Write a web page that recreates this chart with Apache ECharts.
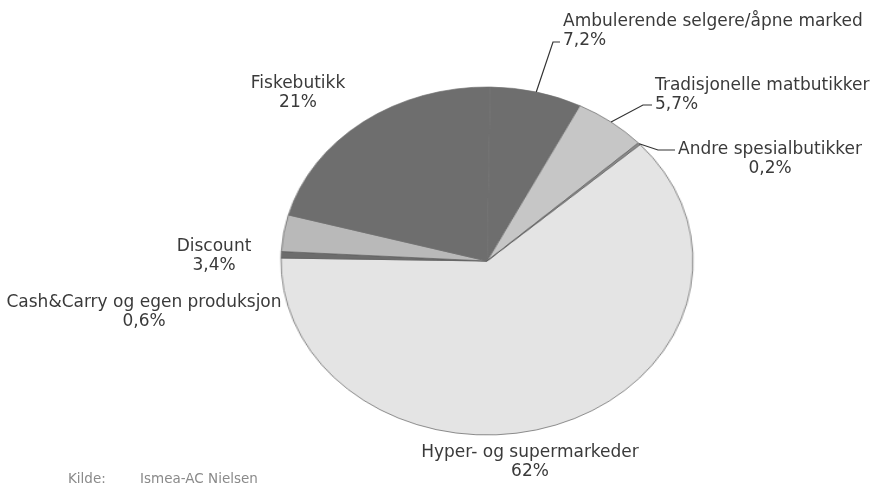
<!DOCTYPE html>
<html>
<head>
<meta charset="utf-8">
<script src="https://cdn.jsdelivr.net/npm/echarts@6/dist/echarts.min.js"></script>
<style>
	html, body { margin: 0; padding: 0; background: #fff; }
	#wrap { position: relative; width: 877px; height: 488px; overflow: hidden; }
	.layer { position: absolute; left: 0; top: 0; width: 877px; height: 488px; }
	/* the pie in the original is an ellipse, so the shape layer is stretched sideways */
	#pie { transform: scaleX(1.184); transform-origin: 487px 261px; }
</style>
</head>
<body>
<div id="wrap">
	<div id="pie" class="layer"></div>
	<div id="labels" class="layer"></div>
</div>
<script>
	// data, in drawing order (clockwise from the right side)
	var names = ['Hyper- og supermarkeder', 'Cash&Carry og egen produksjon', 'Discount', 'Fiskebutikk',
		'Ambulerende selgere/åpne marked', 'Tradisjonelle matbutikker', 'Andre spesialbutikker']
	var values = [62, 0.6, 3.4, 21, 7.2, 5.7, 0.2]
	var colors = ['#e4e4e4', '#6c6c6c', '#b9b9b9', '#6e6e6e', '#6e6e6e', '#c6c6c6', '#8c8c8c']
	// fiskebutikk and ambulerende share a shade with no line between them
	var borders = ['#5e5e5e', '#5e5e5e', '#5e5e5e', '#6e6e6e', '#6e6e6e', '#5e5e5e', '#5e5e5e']

	var cx = 487, cy = 261, r = 174
	var sx = 1.184 // horizontal stretch of the ellipse

	// where each label sits (x, top y), and whether it gets a leader line
	var labelPos = [
		{ x: 530, y: 443, align: 'center' },
		{ x: 144, y: 293, align: 'center' },
		{ x: 214, y: 237, align: 'center' },
		{ x: 298, y: 74, align: 'center' },
		{ x: 563, y: 12, align: 'left', line: true, lineY: 30, tick: 10 },
		{ x: 655, y: 76, align: 'left', line: true, lineY: 29, tick: 12 },
		{ x: 770, y: 140, align: 'center', line: true, lineY: 10, tick: 20 }
	]

	function fmt(v) {
		return String(v).replace('.', ',') + '%'
	}

	function buildData(withLabels) {
		return names.map(function (n, i) {
			var item = { name: n, value: values[i] }
			if (withLabels) {
				item.itemStyle = { color: 'rgba(0,0,0,0)', borderWidth: 0 }
				item.labelLine = { show: !!labelPos[i].line }
			} else {
				item.itemStyle = { color: colors[i], borderColor: borders[i] }
			}
			return item
		})
	}

	var pieChart = echarts.init(document.getElementById('pie'))
	pieChart.setOption({
		animation: false,
		series: [{
			type: 'pie',
			center: [cx, cy],
			radius: r,
			startAngle: 42,
			clockwise: true,
			silent: true,
			label: { show: false },
			labelLine: { show: false },
			itemStyle: { borderWidth: 0.7 },
			data: buildData(false)
		}]
	})

	var labelChart = echarts.init(document.getElementById('labels'))
	labelChart.setOption({
		animation: false,
		textStyle: { fontFamily: 'DejaVu Sans' },
		graphic: [
			{ type: 'text', left: 68, top: 472, style: { text: 'Kilde:', font: '13.5px "DejaVu Sans"', fill: '#8a8a8a' } },
			{ type: 'text', left: 140, top: 472, style: { text: 'Ismea-AC Nielsen', font: '13.5px "DejaVu Sans"', fill: '#8a8a8a' } }
		],
		series: [{
			type: 'pie',
			center: [cx, cy],
			radius: r,
			startAngle: 42,
			clockwise: true,
			silent: true,
			avoidLabelOverlap: false,
			label: {
				show: true,
				position: 'outside',
				fontFamily: 'DejaVu Sans',
				fontSize: 17,
				lineHeight: 19,
				color: '#3a3a3a',
				formatter: function (p) {
					return p.name + '\n' + fmt(p.value)
				}
			},
			labelLine: {
				show: true,
				length: 10,
				length2: 10,
				lineStyle: { color: '#333', width: 1.2 }
			},
			labelLayout: function (p) {
				var pos = labelPos[p.dataIndex]
				var out = { x: pos.x, y: pos.y, align: pos.align, verticalAlign: 'top' }
				if (pos.line && p.labelLinePoints) {
					var pts = p.labelLinePoints
					// move the anchor from the circle onto the stretched ellipse
					var a = [cx + (pts[0][0] - cx) * sx, pts[0][1]]
					var left = pos.align === 'left' ? pos.x : pos.x - p.labelRect.width / 2
					var ly = pos.y + pos.lineY
					out.labelLinePoints = [a, [left - pos.tick, ly], [left - 3, ly]]
				}
				return out
			},
			data: buildData(true)
		}]
	})
</script>
</body>
</html>
